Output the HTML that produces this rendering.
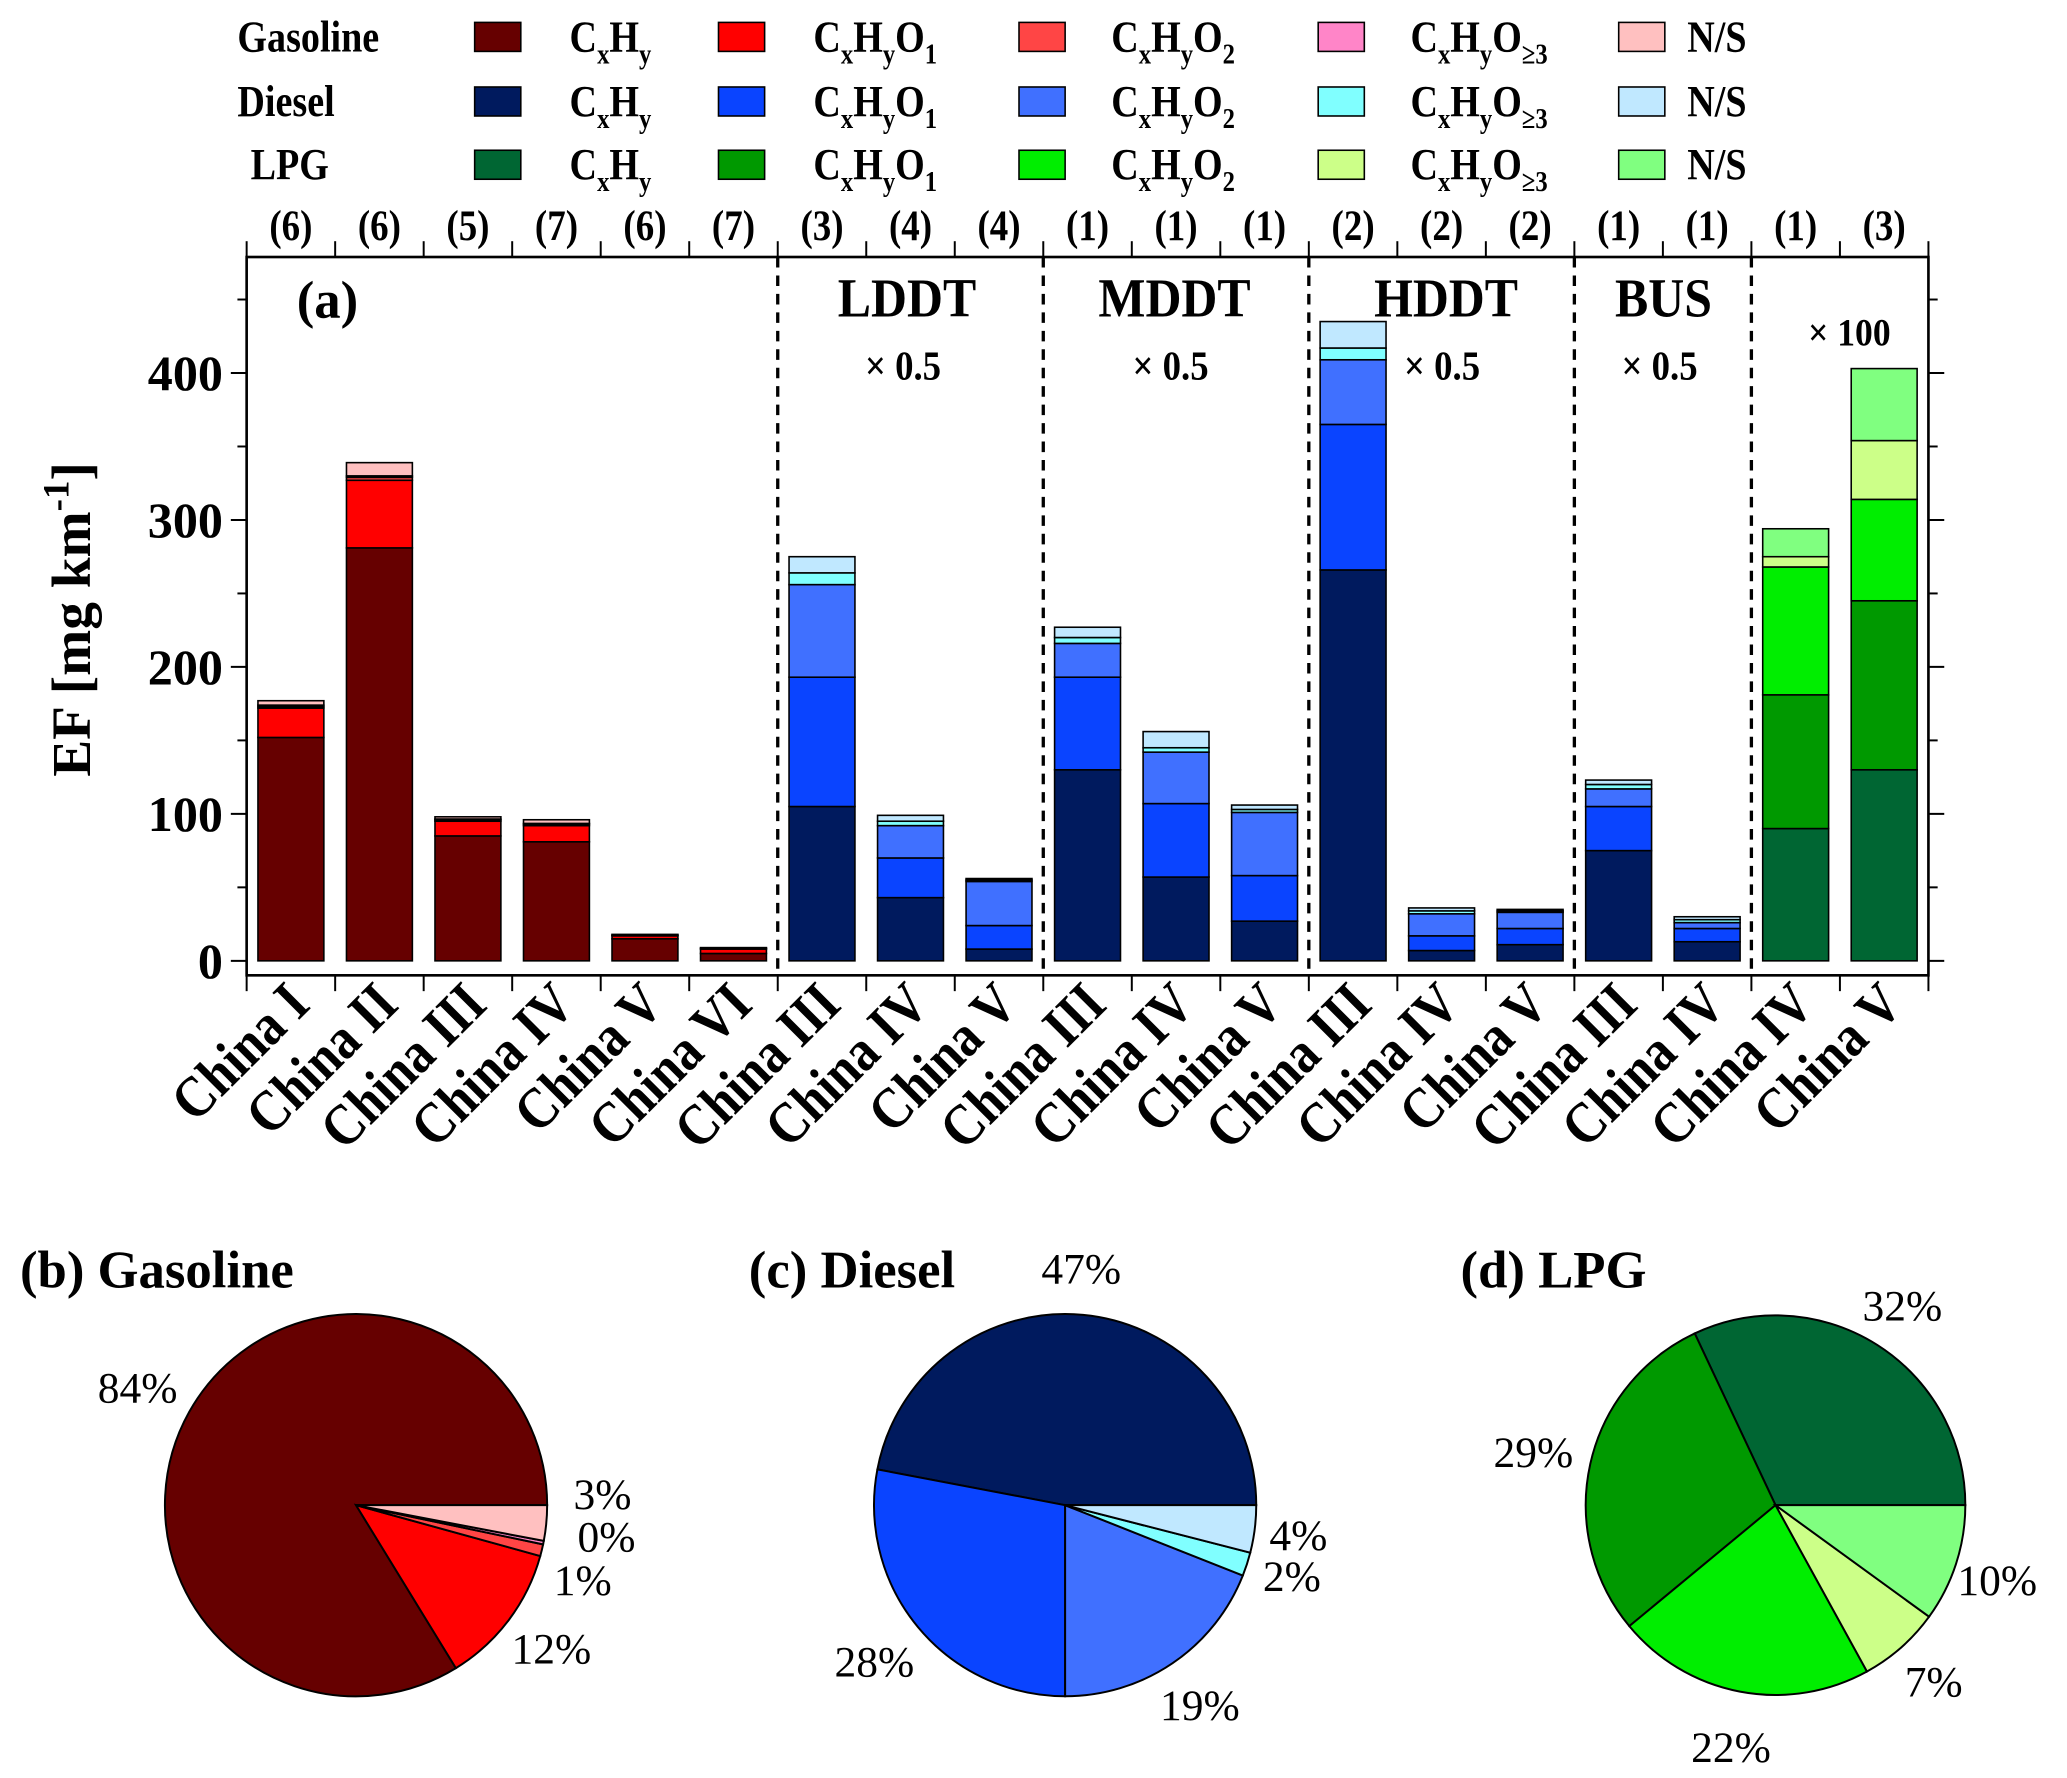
<!DOCTYPE html>
<html><head><meta charset="utf-8"><style>
html,body{margin:0;padding:0;background:#fff}
svg{display:block}
text{font-family:"Liberation Serif",serif}
</style></head><body>
<svg id="chart" width="2067" height="1778" viewBox="0 0 1568 1349" xmlns="http://www.w3.org/2000/svg">
<g id="legend"></g>
<g id="barplot"></g>
<g id="pies"></g>
</svg>
<script>
const categories=["China I","China II","China III","China IV","China V","China VI","China III","China IV","China V","China III","China IV","China V","China III","China IV","China V","China III","China IV","China IV","China V"];
const sampleCounts=["(6)","(6)","(5)","(7)","(6)","(7)","(3)","(4)","(4)","(1)","(1)","(1)","(2)","(2)","(2)","(1)","(1)","(1)","(3)"];
const fuelType=["g","g","g","g","g","g","d","d","d","d","d","d","d","d","d","d","d","l","l"];
const seriesCxHy=[152,281,85,81,15,5,105,43,8,130,57,27,266,7,11,75,13,90,130];
const seriesO1=[20,46,10,11,2,3,88,27,16,63,50,31,99,10,11,30,9,91,115];
const seriesO2=[1,2,1,1,0.5,0.5,63,22,30,23,35,43,44,15,11,12,4,87,69];
const seriesO3=[1,1,0.5,0.5,0,0,8,3,1,4,3,2,8,2,1,3,2,7,40];
const seriesNS=[3,9,1.5,2.5,0.5,0.5,11,4,1,7,11,3,18,2,1,3,2,19,49];
const yTicks=[0,100,200,300,400];
const groupLabels=["LDDT","MDDT","HDDT","BUS"];
const pieGasoline=[84,12,1,0.3,3];
const pieDiesel=[47,28,19,2,4];
const pieLPG=[32,29,22,7,10];
const pieLabelsG=["84%","12%","1%","0%","3%"];
const pieLabelsD=["47%","28%","19%","2%","4%"];
const pieLabelsL=["32%","29%","22%","7%","10%"];

const colors={g:["#660000","#ff0000","#ff4545","#ff85c8","#ffc0c0"],
d:["#001a5e","#0a44ff","#4070ff","#80ffff","#c0e8ff"],
l:["#006633","#009900","#00ee00","#ccff88","#80ff80"]};
const NS="http://www.w3.org/2000/svg";
function mk(p,tag,attrs,txt){const e=document.createElementNS(NS,tag);for(const k in attrs)e.setAttribute(k,attrs[k]);if(txt!==undefined)e.textContent=txt;p.appendChild(e);return e;}
function sx(x,y,s){return `translate(${x},${y}) scale(${s},1)`;}

const X0=187,X1=1463,YT=195,YB=740,N=categories.length,slot=(X1-X0)/N;
const y0px=729,pxPer=111.5/100;
function xs(i){return X0+slot*(i+0.5);}
function ys(v){return y0px-v*pxPer;}
const bp=document.getElementById('barplot');

// legend
const lg=document.getElementById('legend');
const rowNames=["Gasoline","Diesel","LPG"],rowKeys=["g","d","l"],rowY=[28,77,125];
const boxX=[360,545,773,1000,1228],txtX=[432,617,843,1070,1280];
const sub=[["x","y"],["x","y","1"],["x","y","2"],["x","y","≥3"]];
rowNames.forEach((nm,r)=>{
  const t=mk(lg,'text',{transform:sx(r==2?190:180,rowY[r]+11,0.85),'font-size':34,'font-weight':'bold'},nm);
  
  
  for(let c=0;c<5;c++){
    const b=mk(lg,'rect',{x:boxX[c],y:rowY[r]-11,width:35,height:22,fill:colors[rowKeys[r]][c],stroke:'#000','stroke-width':1.2});
    
    
    const tt=mk(lg,'text',{transform:sx(txtX[c],rowY[r]+11,0.85),'font-size':34,'font-weight':'bold'});
    
    
    if(c==4){tt.textContent="N/S";}
    else{
      const s=sub[c];
      mk(tt,'tspan',{},"C");mk(tt,'tspan',{dy:9,'font-size':22},s[0]);mk(tt,'tspan',{dy:-9},"H");mk(tt,'tspan',{dy:9,'font-size':22},s[1]);
      if(c>0){mk(tt,'tspan',{dy:-9},"O");mk(tt,'tspan',{dy:9,'font-size':22},s[2]);}
    }
  }
});

const fr=mk(bp,'rect',{x:X0,y:YT,width:X1-X0,height:YB-YT,fill:'none',stroke:'#000','stroke-width':2});


for(let i=0;i<=N;i++){
  const x=X0+slot*i;
  mk(bp,'line',{x1:x,y1:YT,x2:x,y2:YT-12,stroke:'#000','stroke-width':1.5});
  mk(bp,'line',{x1:x,y1:YB,x2:x,y2:YB+12,stroke:'#000','stroke-width':1.5});
}
sampleCounts.forEach((s,i)=>{
  const t=mk(bp,'text',{transform:sx(xs(i),182,0.85),'text-anchor':'middle','font-size':33,'font-weight':'bold'},s);
  
  
});
for(let v=0;v<=450;v+=50){
  const y=ys(v);const len=v%100==0?12:7;
  mk(bp,'line',{x1:X0-len,y1:y,x2:X0,y2:y,stroke:'#000','stroke-width':1.5});
  mk(bp,'line',{x1:X1,y1:y,x2:X1+len,y2:y,stroke:'#000','stroke-width':1.5});
}
yTicks.forEach(v=>{
  const t=mk(bp,'text',{x:X0-18,y:ys(v)+13,'text-anchor':'end','font-size':38,'font-weight':'bold'},String(v));
  
  
});
const yt=mk(bp,'text',{transform:'translate(68,470) rotate(-90)','text-anchor':'middle','font-size':42,'font-weight':'bold'});


mk(yt,'tspan',{},"EF [mg km");mk(yt,'tspan',{dy:-16,'font-size':28},"-1");mk(yt,'tspan',{dy:16},"]");

[6,9,12,15,17].forEach(b=>{
  const x=X0+slot*b;
  const l=mk(bp,'line',{x1:x,y1:YT,x2:x,y2:YB,stroke:'#000','stroke-width':2.5,'stroke-dasharray':'8,6'});
  
  
});
const lblPos=[[688,240],[891,240],[1097,240],[1262,240]];
groupLabels.forEach((g,i)=>{
  const t=mk(bp,'text',{transform:sx(lblPos[i][0],lblPos[i][1],0.9),'text-anchor':'middle','font-size':42,'font-weight':'bold'},g);
  
  
  const s=mk(bp,'text',{transform:sx(lblPos[i][0]-3,288,0.9),'text-anchor':'middle','font-size':31,'font-weight':'bold'},"× 0.5");
  
  
});
const sc=mk(bp,'text',{transform:sx(1403,262,0.9),'text-anchor':'middle','font-size':30,'font-weight':'bold'},"× 100");


const pa=mk(bp,'text',{x:225,y:241,'font-size':40,'font-weight':'bold'},"(a)");



const series=[seriesCxHy,seriesO1,seriesO2,seriesO3,seriesNS];
categories.forEach((c,i)=>{
  let cum=0;
  series.forEach((s,k)=>{
    const v=s[i];if(v<=0)return;
    const r=mk(bp,'rect',{x:xs(i)-25,y:ys(cum+v),width:50,height:ys(cum)-ys(cum+v),fill:colors[fuelType[i]][k],stroke:'#000','stroke-width':1.2});
    
    
    cum+=v;
  });
  const t=mk(bp,'text',{transform:`translate(${xs(i)+16},764) rotate(-45) scale(0.92,1.05)`,'text-anchor':'end','font-size':42,'font-weight':'bold'},c);
  
  
});

const pg=document.getElementById('pies');
function pie(cx,cy,r,vals,labels,cols,title,tx,lblPos){
  const tt=mk(pg,'text',{x:tx,y:977,'font-size':40,'font-weight':'bold'},title);
  
  
  const tot=vals.reduce((a,b)=>a+b,0);let a=0;
  vals.forEach((v,k)=>{
    const a1=a+v/tot*2*Math.PI;
    const x0=cx+r*Math.cos(a),y0=cy-r*Math.sin(a),x1=cx+r*Math.cos(a1),y1=cy-r*Math.sin(a1);
    const large=(a1-a)>Math.PI?1:0;
    const p=mk(pg,'path',{d:`M${cx},${cy} L${x0},${y0} A${r},${r} 0 ${large} 0 ${x1},${y1} Z`,fill:cols[k],stroke:'#000','stroke-width':1.5});
    
    
    a=a1;
  });
  labels.forEach((l,k)=>{
    const t=mk(pg,'text',{x:lblPos[k][0],y:lblPos[k][1],'font-size':33},l);
    
    
  });
}
pie(270,1142,145,pieGasoline,pieLabelsG,colors.g,"(b) Gasoline",15,[[74,1064],[388,1262],[420,1210],[438,1177],[435,1145]]);
pie(808,1142,145,pieDiesel,pieLabelsD,colors.d,"(c) Diesel",568,[[790,974],[633,1272],[880,1305],[958,1207],[963,1176]]);
pie(1347,1142,144,pieLPG,pieLabelsL,colors.l,"(d) LPG",1108,[[1413,1002],[1133,1113],[1283,1337],[1445,1287],[1485,1210]]);
</script>
</body></html>
